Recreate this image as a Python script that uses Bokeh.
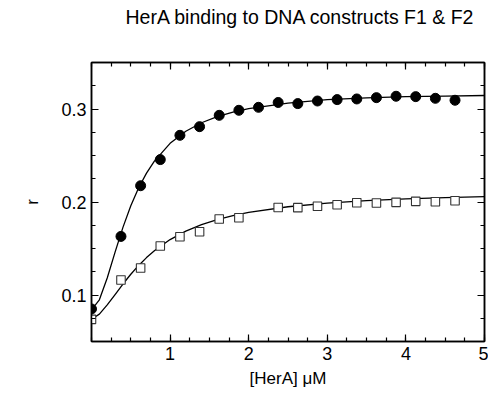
from bokeh.plotting import figure
from bokeh.models import FixedTicker, LinearAxis, Range1d, Title, CustomLabelingPolicy
from bokeh.embed import file_html
from bokeh.resources import INLINE

# Data: F1 (filled circles) and F2 (open squares)
f1_x = [0, 0.375, 0.625, 0.875, 1.125, 1.375, 1.625, 1.875, 2.125, 2.375,
        2.625, 2.875, 3.125, 3.375, 3.625, 3.875, 4.125, 4.375, 4.625]
f1_r = [0.085, 0.163, 0.2175, 0.2456, 0.2717, 0.281, 0.2932, 0.2986, 0.3018, 0.307,
        0.3058, 0.3086, 0.3101, 0.3108, 0.3122, 0.3137, 0.3133, 0.3115, 0.3094]

f2_x = [0, 0.375, 0.625, 0.875, 1.125, 1.375, 1.625, 1.875, 2.375,
        2.625, 2.875, 3.125, 3.375, 3.625, 3.875, 4.125, 4.375, 4.625]
f2_r = [0.0738, 0.1161, 0.129, 0.1527, 0.1627, 0.168, 0.1817, 0.1831, 0.1941,
        0.1939, 0.1954, 0.1971, 0.1992, 0.1989, 0.1996, 0.2007, 0.2003, 0.2014]

# Fitted curves (sampled)
fit_x = [0, 0.1, 0.2, 0.3, 0.4, 0.5, 0.6, 0.7, 0.8, 1.0, 1.2, 1.4, 1.6, 1.8,
         2.0, 2.5, 3.0, 3.5, 4.0, 4.5, 5.0]
fit_f1 = [0.084, 0.0948, 0.1183, 0.1461, 0.1727, 0.1959, 0.2153, 0.2311, 0.2440,
          0.2631, 0.2761, 0.2852, 0.2917, 0.2966, 0.3003, 0.3064, 0.3100, 0.3120,
          0.3133, 0.3139, 0.3145]
fit_f2 = [0.074, 0.0794, 0.0893, 0.1005, 0.1118, 0.1223, 0.1318, 0.1402, 0.1476,
          0.1596, 0.1687, 0.1757, 0.1811, 0.1854, 0.1888, 0.1949, 0.1988, 0.2015,
          0.2034, 0.2048, 0.2058]

x_ticks = [1, 2, 3, 4, 5]
x_minor = [i * 0.25 for i in range(21)]
y_ticks = [0.1, 0.2, 0.3]
y_minor = [0.05 + i * 0.025 for i in range(13)]

TITLE = "HerA binding to DNA constructs F1 & F2"
FONT = "Liberation Sans"

p = figure(width=488, height=390, output_backend="svg", toolbar_location=None,
           x_range=Range1d(0, 5), y_range=Range1d(0.05, 0.35),
           x_axis_label="[HerA] μM", y_axis_label="r",
           min_border_left=91, min_border_right=2, min_border_top=62,
           min_border_bottom=48)

p.title = Title(text=TITLE, align="left", offset=34,
                text_font=FONT, text_font_size="19.5px", text_font_style="normal",
                text_color="black", standoff=6)

p.grid.visible = False
p.outline_line_color = "black"
p.outline_line_width = 1.5
p.background_fill_color = "white"
p.border_fill_color = "white"

p.line(fit_x, fit_f1, line_color="black", line_width=1.3)
p.line(fit_x, fit_f2, line_color="black", line_width=1.3)
p.scatter(f1_x, f1_r, marker="circle", size=10, fill_color="black", line_color="black")
p.scatter(f2_x, f2_r, marker="square", size=8.5, fill_color="white",
          line_color="#333333", line_width=1.1)

no_labels = CustomLabelingPolicy(code="""
for (const i of Array.from(indices)) indices.unset(i)
return indices
""")


def style(ax, ticks, minor, labels=True):
    ax.ticker = FixedTicker(ticks=ticks, minor_ticks=minor)
    ax.axis_line_color = "black"
    ax.axis_line_width = 1.5
    ax.major_tick_in = 7
    ax.major_tick_out = 0
    ax.minor_tick_in = 4
    ax.minor_tick_out = 0
    ax.major_tick_line_width = 1.2
    ax.minor_tick_line_width = 1.2
    ax.major_tick_line_color = "black"
    ax.minor_tick_line_color = "black"
    if labels:
        ax.major_label_text_font = FONT
        ax.major_label_text_font_size = "18px"
        ax.major_label_text_color = "black"
        ax.major_label_standoff = 5
        ax.axis_label_text_font = FONT
        ax.axis_label_text_font_size = "17px"
        ax.axis_label_text_font_style = "normal"
        ax.axis_label_text_color = "black"
    else:
        ax.major_label_policy = no_labels
        ax.major_label_text_font_size = "1px"
        ax.major_label_standoff = 0
        ax.axis_label_standoff = 0


style(p.xaxis[0], x_ticks, x_minor)
style(p.yaxis[0], y_ticks, y_minor)
p.xaxis[0].axis_label_standoff = 6
p.yaxis[0].axis_label_standoff = 16

top = LinearAxis()
style(top, x_ticks, x_minor, labels=False)
p.add_layout(top, "above")

# invisible spacer between the top axis and the title
spacer = LinearAxis(ticker=FixedTicker(ticks=[2.5], minor_ticks=[]),
                    axis_line_color=None, major_tick_in=0, major_tick_out=24,
                    minor_tick_in=0, minor_tick_out=0,
                    major_tick_line_color="white", major_tick_line_width=0.1,
                    minor_tick_line_color=None,
                    major_label_policy=no_labels, major_label_text_font_size="1px",
                    major_label_standoff=0, axis_label_standoff=0)
p.add_layout(spacer, "above")

right = LinearAxis()
style(right, y_ticks, y_minor, labels=False)
p.add_layout(right, "right")

open("out.html", "w").write(file_html(p, INLINE))
